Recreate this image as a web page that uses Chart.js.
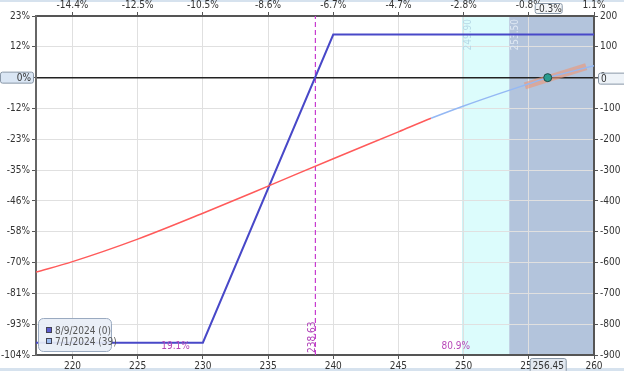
<!DOCTYPE html>
<html>
<head>
<meta charset="utf-8">
<script src="https://cdn.jsdelivr.net/npm/chart.js@4.4.1/dist/chart.umd.min.js"></script>
<style>
	body { margin: 0; background: #fff; }
	#wrap { width: 624px; height: 371px; position: relative; }
</style>
</head>
<body>
<div id="wrap"><canvas id="myChart"></canvas></div>
<script>
// axis ticks
var xTicks = [220, 225, 230, 235, 240, 245, 250, 255, 260];
var topLabels = ['-14.4%', '-12.5%', '-10.5%', '-8.6%', '-6.7%', '-4.7%', '-2.8%', '-0.8%', '1.1%'];
var yTicks = [-900, -800, -700, -600, -500, -400, -300, -200, -100, 0, 100, 200];
var pctLabels = ['-104%', '-93%', '-81%', '-70%', '-58%', '-46%', '-35%', '-23%', '-12%', '0%', '12%', '23%'];

// expiration P&L (8/9/2024)
var expX = [217.2, 230, 240, 260];
var expPL = [-860, -860, 140, 140];

// today P&L (7/1/2024)
var nowX = [217.2, 220, 225, 230, 235, 240, 245, 247.5, 250, 252.5, 255, 256.45, 258, 260];
var nowPL = [-631, -597, -524, -440, -352, -263, -176, -132, -92, -55, -20, 0, 17, 39];

// slope marker around current price
var slopeX = [254.7, 259.4];
var slopePL = [-27, 36];

var spot = 256.45;
var breakeven = 238.63;
var bandEdges = [249.9, 253.5, 260];
var probLabels = ['19.1%', '80.9%'];
var probX = [227.9, 249.4];
var legendLabels = ['8/9/2024 (0)', '7/1/2024 (39)'];

var xMin = 217.2, xMax = 260;
var redUntil = 247.5;

function pts(xs, ys) {
	var out = [];
	for (var i = 0; i < xs.length; i++) {
		out.push({ x: xs[i], y: ys[i] });
	}
	return out;
}

var FONT = "'Liberation Sans Narrow', 'DejaVu Sans Condensed', 'Liberation Sans', sans-serif";
Chart.defaults.font.family = FONT;
Chart.defaults.font.size = 10;
Chart.defaults.color = '#333';

function badge(ctx, x, y, w, h, text, align, fill) {
	ctx.fillStyle = fill;
	ctx.strokeStyle = '#8a98a8';
	ctx.lineWidth = 1;
	ctx.beginPath();
	ctx.roundRect(x + 0.5, y + 0.5, w, h, 2);
	ctx.fill();
	ctx.stroke();
	ctx.fillStyle = '#333';
	ctx.textBaseline = 'middle';
	ctx.textAlign = align;
	var tx = align == 'right' ? x + w - 2 : (align == 'left' ? x + 3 : x + w / 2 + 0.5);
	ctx.fillText(text, tx, y + h / 2 + 1);
}

var overlay = {
	id: 'overlay',
	beforeDraw: function(chart) {
		var ctx = chart.ctx, a = chart.chartArea, sx = chart.scales.x;
		ctx.save();
		ctx.fillStyle = '#d6e2ee';
		ctx.fillRect(0, 0, chart.width, 2);
		ctx.fillRect(0, chart.height - 3, chart.width, 3);
		var e0 = sx.getPixelForValue(bandEdges[0]);
		var e1 = sx.getPixelForValue(bandEdges[1]);
		var e2 = sx.getPixelForValue(bandEdges[2]);
		ctx.fillStyle = '#dcfcfc';
		ctx.fillRect(e0, a.top, e1 - e0, a.bottom - a.top);
		ctx.fillStyle = '#b3c4dc';
		ctx.fillRect(e1, a.top, e2 - e1, a.bottom - a.top);
		ctx.strokeStyle = '#c4ecf0';
		ctx.lineWidth = 1;
		ctx.beginPath();
		ctx.moveTo(e0 + 0.5, a.top);
		ctx.lineTo(e0 + 0.5, a.bottom);
		ctx.stroke();
		ctx.restore();
	},
	beforeDatasetsDraw: function(chart) {
		var ctx = chart.ctx, a = chart.chartArea, sx = chart.scales.x;
		ctx.save();
		ctx.font = '10px ' + FONT;
		var cols = ['#b6d8e6', '#dfe8f3'];
		for (var i = 0; i < 2; i++) {
			var ex = sx.getPixelForValue(bandEdges[i]);
			ctx.save();
			ctx.translate(ex + 1, a.top + 3);
			ctx.rotate(-Math.PI / 2);
			ctx.textAlign = 'right';
			ctx.textBaseline = 'top';
			ctx.fillStyle = cols[i];
			ctx.fillText(bandEdges[i].toFixed(2), 0, 0);
			ctx.restore();
		}
		ctx.restore();
	},
	afterDraw: function(chart) {
		var ctx = chart.ctx, a = chart.chartArea, sx = chart.scales.x, sy = chart.scales.y;
		ctx.save();
		ctx.font = '10px ' + FONT;

		// breakeven label
		var bx = sx.getPixelForValue(breakeven);
		ctx.save();
		ctx.translate(bx - 8, a.bottom - 2);
		ctx.rotate(-Math.PI / 2);
		ctx.textAlign = 'left';
		ctx.textBaseline = 'top';
		ctx.fillStyle = '#b040b8';
		ctx.fillText(breakeven.toFixed(2), 0, 0);
		ctx.restore();

		// probability labels
		ctx.fillStyle = '#b848b8';
		ctx.textAlign = 'center';
		ctx.textBaseline = 'middle';
		for (var i = 0; i < probLabels.length; i++) {
			ctx.fillText(probLabels[i], sx.getPixelForValue(probX[i]), a.bottom - 9);
		}

		// legend box
		ctx.fillStyle = 'rgba(232,238,246,0.92)';
		ctx.strokeStyle = '#9aaac0';
		ctx.lineWidth = 1;
		ctx.beginPath();
		ctx.roundRect(a.left + 2.5, a.bottom - 36.5, 73, 33, 5);
		ctx.fill();
		ctx.stroke();
		var sq = ['#5c5cd0', '#9cbcf0'];
		for (var j = 0; j < 2; j++) {
			var ly = a.bottom - 25 + j * 11;
			ctx.fillStyle = sq[j];
			ctx.fillRect(a.left + 10, ly - 3, 6, 6);
			ctx.strokeStyle = '#445';
			ctx.strokeRect(a.left + 10.5, ly - 2.5, 5, 5);
			ctx.fillStyle = '#555';
			ctx.textAlign = 'left';
			ctx.textBaseline = 'middle';
			ctx.fillText(legendLabels[j], a.left + 19, ly + 1);
		}

		// value badges
		var zy = sy.getPixelForValue(0);
		var spx = sx.getPixelForValue(spot);
		badge(ctx, 0, zy - 6, 33, 11, '0%', 'right', '#dae6f4');
		badge(ctx, a.right + 4, zy - 5, 28, 11, '0', 'left', '#eef3f8');
		badge(ctx, spx - 13, 3, 27, 10, '-0.3%', 'center', '#f4f6f8');
		badge(ctx, spx - 18, a.bottom + 3, 36, 14, spot.toFixed(2), 'center', '#e2e8f0');
		ctx.restore();
	}
};

var ctx = document.getElementById("myChart");
var myChart = new Chart(ctx, {
	type: 'line',
	data: {
		datasets: [{
			label: 'spot',
			data: pts([spot], [0]),
			showLine: false,
			pointRadius: 4,
			pointBackgroundColor: '#2a9c90',
			pointBorderColor: '#1c4a48',
			pointBorderWidth: 1
		}, {
			label: legendLabels[1],
			data: pts(nowX, nowPL),
			borderColor: '#ff5a5a',
			borderWidth: 1.5,
			pointRadius: 0,
			cubicInterpolationMode: 'monotone',
			segment: {
				borderColor: function(c) {
					return c.p0.parsed.x < redUntil ? '#ff5a5a' : '#94b8f4';
				}
			}
		}, {
			label: 'slope',
			data: pts(slopeX, slopePL),
			borderColor: 'rgba(238,150,118,0.62)',
			borderWidth: 7,
			borderCapStyle: 'butt',
			pointRadius: 0
		}, {
			label: legendLabels[0],
			data: pts(expX, expPL),
			borderColor: '#4848c8',
			borderWidth: 2,
			pointRadius: 0,
			tension: 0
		}, {
			label: 'breakeven',
			data: pts([breakeven, breakeven], [-900, 200]),
			borderColor: '#c83cd0',
			borderWidth: 1.2,
			borderDash: [5, 3],
			pointRadius: 0
		}]
	},
	options: {
		responsive: true,
		maintainAspectRatio: false,
		animation: false,
		layout: { padding: 0 },
		plugins: {
			legend: { display: false },
			tooltip: { enabled: false }
		},
		scales: {
			x: {
				type: 'linear',
				position: 'bottom',
				min: xMin,
				max: xMax,
				afterBuildTicks: function(s) { s.ticks = xTicks.map(function(v) { return { value: v }; }); },
				afterFit: function(s) { s.height = 16; },
				grid: { color: '#e0e0e0', tickLength: 4, tickColor: '#555' },
				border: { color: '#555', width: 2 },
				ticks: { autoSkip: false, maxRotation: 0, padding: 1 }
			},
			xTop: {
				type: 'linear',
				position: 'top',
				min: xMin,
				max: xMax,
				afterBuildTicks: function(s) { s.ticks = xTicks.map(function(v) { return { value: v }; }); },
				afterFit: function(s) { s.height = 16; },
				grid: { drawOnChartArea: false, tickLength: 4, tickColor: '#555' },
				border: { color: '#555', width: 2 },
				ticks: {
					autoSkip: false, maxRotation: 0, padding: 1,
					callback: function(v, i) { return topLabels[i]; }
				}
			},
			yLeft: {
				type: 'linear',
				position: 'left',
				min: -900,
				max: 200,
				afterBuildTicks: function(s) { s.ticks = yTicks.map(function(v) { return { value: v }; }); },
				afterFit: function(s) { s.width = 36; },
				grid: { drawOnChartArea: false, tickLength: 4, tickColor: '#555' },
				border: { color: '#666', width: 2 },
				ticks: {
					autoSkip: false, padding: 2,
					callback: function(v, i) { return pctLabels[i]; }
				}
			},
			y: {
				type: 'linear',
				position: 'right',
				min: -900,
				max: 200,
				afterBuildTicks: function(s) { s.ticks = yTicks.map(function(v) { return { value: v }; }); },
				afterFit: function(s) { s.width = 30; },
				grid: {
					tickLength: 4,
					tickColor: '#555',
					color: function(c) { return c.tick && c.tick.value === 0 ? '#222' : '#e0e0e0'; },
					lineWidth: function(c) { return c.tick && c.tick.value === 0 ? 1.5 : 1; }
				},
				border: { color: '#555', width: 2 },
				ticks: { autoSkip: false, padding: 2 }
			}
		}
	},
	plugins: [overlay]
});
</script>
</body>
</html>
